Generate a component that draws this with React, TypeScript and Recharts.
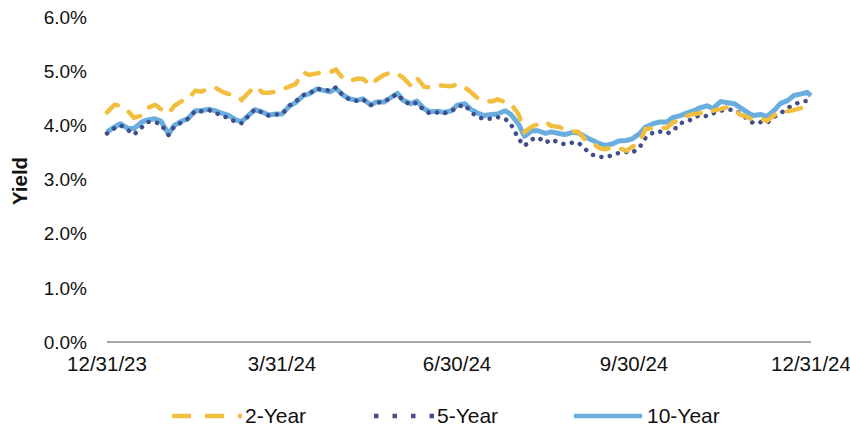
import React from 'react';
import { LineChart, Line, XAxis, YAxis, Legend } from 'recharts';

const days = [0,4,7,11,14,18,21,25,28,32,35,39,42,46,49,53,56,60,63,67,70,74,77,81,84,88,91,95,98,102,105,109,112,116,119,123,126,130,133,137,140,144,147,151,154,158,161,165,168,172,175,179,182,186,189,193,196,200,203,207,210,214,217,221,224,228,231,235,238,242,245,249,252,256,259,263,266,270,273,277,280,284,287,291,294,298,301,305,308,312,315,319,322,326,329,333,336,340,343,347,350,354,357,361,364,366];

const twoYear = [4.24,4.38,4.36,4.26,4.14,4.18,4.32,4.38,4.30,4.22,4.36,4.45,4.48,4.64,4.62,4.68,4.70,4.62,4.58,4.55,4.47,4.62,4.72,4.60,4.60,4.62,4.66,4.72,4.76,4.98,4.93,4.96,4.98,4.98,5.03,4.85,4.82,4.86,4.86,4.74,4.84,4.93,4.97,4.95,4.88,4.73,4.88,4.71,4.70,4.74,4.73,4.72,4.76,4.70,4.62,4.49,4.46,4.44,4.48,4.43,4.40,4.20,3.88,3.98,4.02,4.06,3.99,3.97,3.92,3.89,3.88,3.72,3.68,3.58,3.56,3.60,3.58,3.53,3.60,3.70,3.93,3.95,3.96,3.95,4.05,4.10,4.17,4.21,4.22,4.28,4.27,4.30,4.33,4.30,4.20,4.15,4.10,4.12,4.08,4.19,4.24,4.26,4.28,4.32,4.28,4.24];

const fiveYear = [3.85,3.95,4.00,3.91,3.83,3.96,4.06,4.06,4.02,3.82,3.98,4.06,4.12,4.27,4.26,4.28,4.24,4.17,4.14,4.06,4.04,4.19,4.30,4.23,4.18,4.20,4.21,4.37,4.44,4.56,4.58,4.68,4.66,4.64,4.70,4.54,4.48,4.45,4.48,4.37,4.42,4.43,4.50,4.58,4.45,4.38,4.42,4.27,4.22,4.24,4.22,4.26,4.34,4.38,4.25,4.15,4.12,4.12,4.15,4.12,4.02,3.75,3.62,3.74,3.78,3.68,3.74,3.68,3.65,3.68,3.68,3.55,3.46,3.42,3.41,3.45,3.49,3.51,3.49,3.60,3.77,3.87,3.89,3.85,3.89,4.04,4.06,4.13,4.19,4.17,4.22,4.27,4.29,4.29,4.22,4.12,4.04,4.06,4.04,4.16,4.22,4.32,4.38,4.44,4.45,4.40];

const tenYear = [3.88,3.97,4.03,3.94,3.94,4.06,4.10,4.12,4.08,3.84,4.00,4.08,4.12,4.27,4.27,4.30,4.27,4.22,4.19,4.10,4.07,4.20,4.29,4.24,4.19,4.21,4.21,4.36,4.42,4.55,4.58,4.67,4.65,4.62,4.68,4.55,4.49,4.46,4.49,4.38,4.43,4.43,4.50,4.59,4.46,4.40,4.45,4.30,4.25,4.26,4.24,4.27,4.37,4.40,4.30,4.22,4.18,4.20,4.21,4.27,4.20,4.02,3.80,3.90,3.90,3.85,3.88,3.85,3.83,3.87,3.86,3.78,3.73,3.66,3.63,3.66,3.71,3.72,3.75,3.85,3.97,4.03,4.06,4.06,4.14,4.18,4.22,4.27,4.32,4.36,4.31,4.44,4.42,4.40,4.33,4.24,4.18,4.20,4.16,4.28,4.40,4.46,4.55,4.58,4.61,4.55];

const xTicks = [0, 91, 182, 274, 366];
const xTickLabels = ['12/31/23', '3/31/24', '6/30/24', '9/30/24', '12/31/24'];
const yTicks = [0, 1, 2, 3, 4, 5, 6];
const seriesNames = ['2-Year', '5-Year', '10-Year'];

const C2 = '#F2BE3E';
const C5 = '#414E8E';
const C10 = '#6AAEDF';
const FONT = '"Liberation Sans", Arial, sans-serif';
const FS = 19;
const FSX = 20.5;
const FSL = 21;

const data = days.map((d, i) => ({ day: d, y2: twoYear[i], y5: fiveYear[i], y10: tenYear[i] }));

const renderLegend = () => (
  <svg width={850} height={40} style={{ display: 'block' }}>
    <line x1={172} x2={242} y1={25} y2={25} stroke={C2} strokeWidth={4.5} strokeDasharray="19 14" />
    <text x={245} y={32} fontFamily={FONT} fontSize={FSL} fill="#111">{seriesNames[0]}</text>
    <line x1={374} x2={434} y1={25} y2={25} stroke={C5} strokeWidth={4.5} strokeDasharray="4.5 14" />
    <text x={437} y={32} fontFamily={FONT} fontSize={FSL} fill="#111">{seriesNames[1]}</text>
    <line x1={574} x2={642} y1={25} y2={25} stroke={C10} strokeWidth={4.5} />
    <text x={647} y={32} fontFamily={FONT} fontSize={FSL} fill="#111">{seriesNames[2]}</text>
  </svg>
);

const YLabel = () => (
  <text
    x={19}
    y={181}
    transform="rotate(-90, 19, 181)"
    textAnchor="middle"
    dominantBaseline="central"
    fontFamily={FONT}
    fontSize={FSX}
    fontWeight="bold"
    fill="#111"
  >
    Yield
  </text>
);

export default function App() {
  return (
    <div style={{ position: 'absolute', left: 0, top: 0 }}>
      <LineChart
        width={850}
        height={431}
        data={data}
        margin={{ top: 17, right: 39, left: 0, bottom: 0 }}
      >
        <XAxis
          dataKey="day"
          type="number"
          domain={[0, 366]}
          ticks={xTicks}
          tickFormatter={(v: number) => xTickLabels[xTicks.indexOf(v)] ?? ''}
          interval={0}
          height={49}
          tickLine={false}
          tickSize={0}
          tickMargin={14}
          axisLine={{ stroke: '#A6A6A6', strokeWidth: 2 }}
          tick={{ fontFamily: FONT, fontSize: FSX, fill: '#111' }}
        />
        <YAxis
          type="number"
          domain={[0, 6]}
          ticks={yTicks}
          interval={0}
          width={107}
          axisLine={false}
          tickLine={false}
          tickSize={0}
          tickMargin={20}
          tickFormatter={(v: number) => `${v.toFixed(1)}%`}
          tick={{ fontFamily: FONT, fontSize: FS, fill: '#111' }}
          label={<YLabel />}
        />
        <Legend
          verticalAlign="bottom"
          content={renderLegend}
          wrapperStyle={{ left: 0, bottom: 0, width: 850, height: 40 }}
        />
        <Line
          type="linear"
          dataKey="y10"
          name={seriesNames[2]}
          stroke={C10}
          strokeWidth={5}
          strokeLinejoin="round"
          dot={false}
          isAnimationActive={false}
        />
        <Line
          type="linear"
          dataKey="y5"
          name={seriesNames[1]}
          stroke={C5}
          strokeWidth={4.5}
          strokeDasharray="0.1 8.5"
          strokeLinecap="round"
          dot={false}
          isAnimationActive={false}
        />
        <Line
          type="linear"
          dataKey="y2"
          name={seriesNames[0]}
          stroke={C2}
          strokeWidth={4.5}
          strokeDasharray="14 13"
          strokeLinecap="round"
          dot={false}
          isAnimationActive={false}
        />
      </LineChart>
    </div>
  );
}
